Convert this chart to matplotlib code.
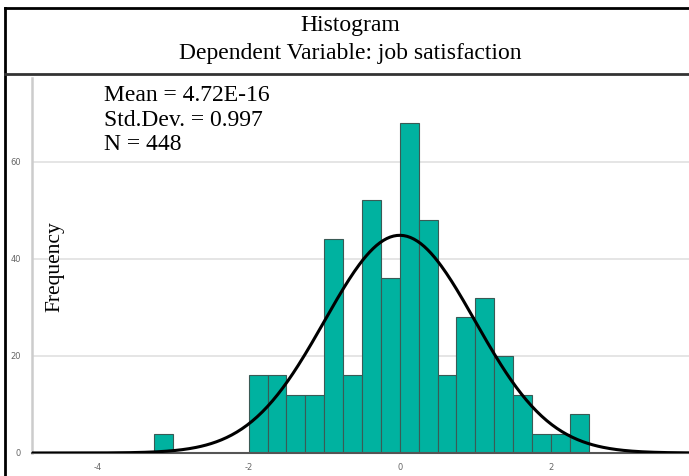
import numpy as np
import matplotlib
matplotlib.use('Agg')
import matplotlib.pyplot as plt
from matplotlib.lines import Line2D

# histogram of standardized residuals (bin width 0.25)
bin_left = [-3.25, -2.0, -1.75, -1.5, -1.25, -1.0, -0.75, -0.5, -0.25,
            0.0, 0.25, 0.5, 0.75, 1.0, 1.25, 1.5, 1.75, 2.0, 2.25]
counts = [4, 16, 16, 12, 12, 44, 16, 52, 36,
          68, 48, 16, 28, 32, 20, 12, 4, 4, 8]
bin_width = 0.25
mean = 4.72e-16
sd = 0.997
n = 448
xticks = [-4, -2, 0, 2]
yticks = [0, 20, 40, 60]
stats_lines = ['Mean = 4.72E-16', 'Std.Dev. = 0.997', 'N = 448']

plt.rcParams['axes.unicode_minus'] = False

W, H = 689, 476
fig = plt.figure(figsize=(W / 100, H / 100), dpi=100)
ax = fig.add_axes([32 / W, 1 - 453 / H, 1 - 32 / W, (453 - 78) / H])

ax.bar(bin_left, counts, width=bin_width, align='edge', color='#00B2A0',
       edgecolor='#3a5a55', linewidth=0.8, zorder=2)

# fitted normal curve
xs = np.linspace(-5, 4, 400)
ys = n * bin_width / (sd * np.sqrt(2 * np.pi)) * np.exp(-0.5 * ((xs - mean) / sd) ** 2)
ax.plot(xs, ys, color='black', lw=2.2, zorder=3)

ax.set_xlim(-4.87, 3.83)
ax.set_ylim(0, 77.2)
ax.set_xticks(xticks)
ax.set_yticks(yticks)
ax.tick_params(length=0, labelsize=6, labelcolor='#666666')
ax.tick_params(axis='x', pad=7)
ax.tick_params(axis='y', pad=8)
ax.grid(axis='y', color='#e0e0e0', lw=1.2, zorder=0)
ax.set_axisbelow(True)
for s in ['top', 'right']:
    ax.spines[s].set_visible(False)
ax.spines['left'].set_color('#cccccc')
ax.spines['left'].set_linewidth(1.8)
ax.spines['bottom'].set_color('#555555')
ax.spines['bottom'].set_linewidth(1.5)

serif = 'Liberation Serif'
fig.text(350 / W, 1 - 31 / H, 'Histogram', ha='center', va='baseline',
         family=serif, fontsize=17)
fig.text(350 / W, 1 - 59 / H, 'Dependent Variable: job satisfaction',
         ha='center', va='baseline', family=serif, fontsize=17)
for i, line in enumerate(stats_lines):
    fig.text(104 / W, 1 - (101 + 24.5 * i) / H, line, ha='left', va='baseline',
             family=serif, fontsize=17)
fig.text(55 / W, 1 - 267 / H, 'Frequency', rotation=90, ha='center', va='center',
         family=serif, fontsize=15.5)

# outer frame and title separator
fig.add_artist(Line2D([5 / W, 5 / W], [0, 1 - 8 / H], color='black', lw=2,
                      transform=fig.transFigure))
fig.add_artist(Line2D([5 / W, 1], [1 - 8 / H, 1 - 8 / H], color='black', lw=2,
                      transform=fig.transFigure))
fig.add_artist(Line2D([5 / W, 1], [1 - 74 / H, 1 - 74 / H], color='#333333', lw=2,
                      transform=fig.transFigure))

fig.savefig('out.png', dpi=100)
